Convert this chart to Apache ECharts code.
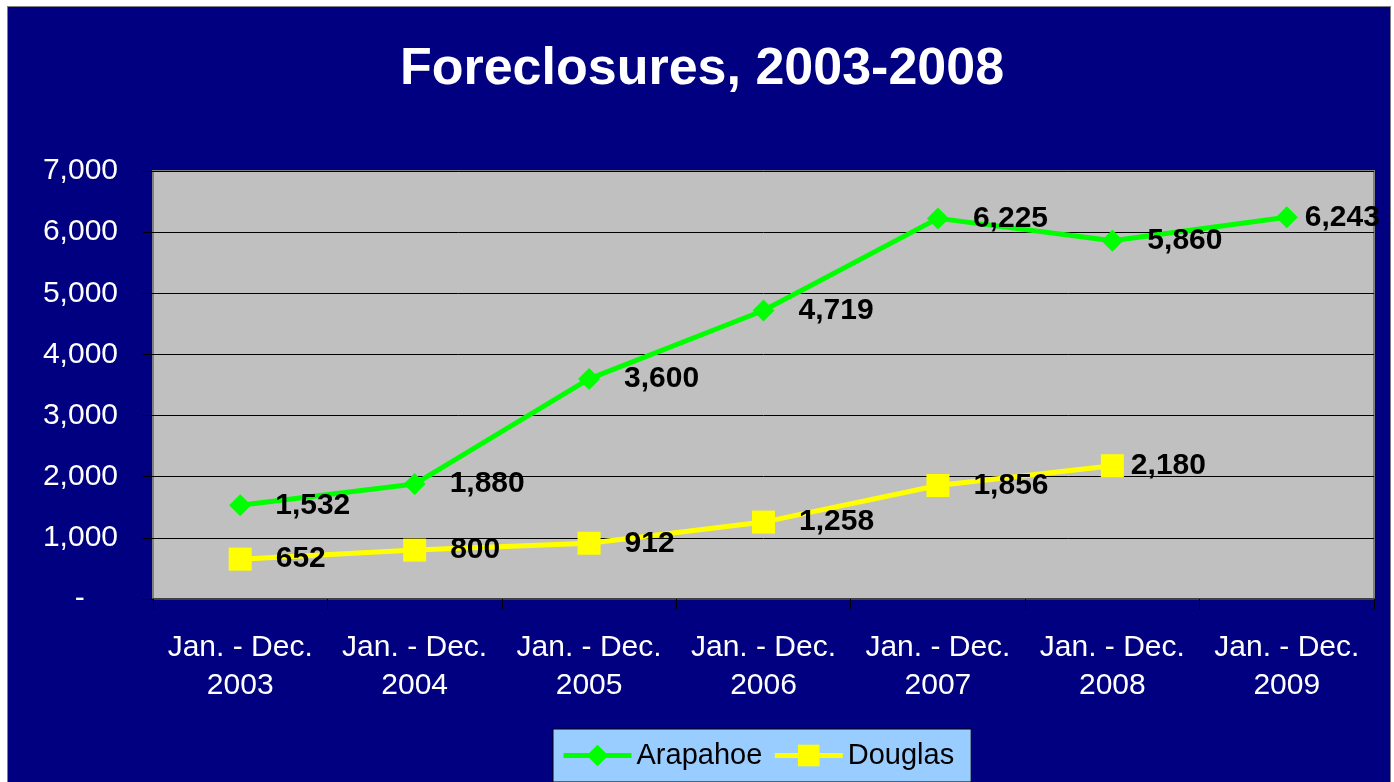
<!DOCTYPE html>
<html>
<head>
<meta charset="utf-8">
<script src="https://cdn.jsdelivr.net/npm/echarts@6/dist/echarts.min.js"></script>
<style>
html,body{margin:0;padding:0;background:#ffffff;width:1394px;height:782px;overflow:hidden;}
#bg{position:absolute;left:7px;top:6px;width:1384px;height:780px;background:#000080;border:1px solid #808080;box-sizing:border-box;}
#chart{position:absolute;left:0;top:0;width:1394px;height:782px;}
</style>
</head>
<body>
<div id="bg"></div>
<div id="chart"></div>
<script>
const titleText = 'Foreclosures, 2003-2008';
const categories = ['Jan. - Dec.\n2003','Jan. - Dec.\n2004','Jan. - Dec.\n2005','Jan. - Dec.\n2006','Jan. - Dec.\n2007','Jan. - Dec.\n2008','Jan. - Dec.\n2009'];
const seriesNames = ['Arapahoe','Douglas'];
const arapahoe = [1532, 1880, 3600, 4719, 6225, 5860, 6243];
const douglas = [652, 800, 912, 1258, 1856, 2180, null];
const yTicks = [0, 1000, 2000, 3000, 4000, 5000, 6000, 7000];

const FONT = "'Liberation Sans', Arial, sans-serif";
const fmt = v => Number(v).toLocaleString('en-US');

function buildData(values, nearIdx) {
  return values.map((v, i) => {
    if (v === null) return null;
    if (nearIdx.includes(i)) return { value: v, label: { distance: 7 } };
    return v;
  });
}

const chart = echarts.init(document.getElementById('chart'), null, { renderer: 'canvas' });
chart.setOption({
  backgroundColor: 'transparent',
  animation: false,
  textStyle: { fontFamily: FONT },
  title: {
    text: titleText,
    left: 702,
    textAlign: 'center',
    top: 41,
    padding: 0,
    textStyle: { color: '#ffffff', fontSize: 52, fontWeight: 'bold', fontFamily: FONT, lineHeight: 58 }
  },
  legend: {
    data: seriesNames,
    left: 553,
    top: 729,
    padding: [12, 17, 12, 8],
    itemGap: 10,
    itemWidth: 68,
    itemHeight: 27,
    backgroundColor: '#99CCFF',
    borderColor: '#000000',
    borderWidth: 1,
    lineStyle: { width: 5 },
    textStyle: { color: '#000000', fontSize: 29, fontFamily: FONT, padding: [2, 0, 0, 0] }
  },
  grid: {
    left: 153, top: 171, width: 1221, height: 428,
    show: true,
    backgroundColor: '#C0C0C0',
    borderColor: '#808080',
    borderWidth: 2
  },
  xAxis: {
    type: 'category',
    data: categories,
    boundaryGap: true,
    axisLine: { show: true, lineStyle: { color: '#404040', width: 2 } },
    axisTick: { show: true, alignWithLabel: false, length: 10, lineStyle: { color: '#000000' } },
    axisLabel: { color: '#ffffff', fontSize: 30, lineHeight: 38, margin: 30, fontFamily: FONT, interval: 0 },
    splitLine: { show: false }
  },
  yAxis: {
    type: 'value',
    min: yTicks[0],
    max: yTicks[yTicks.length - 1],
    interval: 1000,
    axisLine: { show: false },
    axisTick: { show: true, length: 10, lineStyle: { color: '#000000' } },
    axisLabel: {
      color: '#ffffff', fontSize: 30, margin: 35, fontFamily: FONT,
      formatter: v => v === 0 ? '-    ' : fmt(v)
    },
    splitLine: { show: true, lineStyle: { color: '#000000', width: 1 } }
  },
  series: [
    {
      name: seriesNames[0],
      type: 'line',
      data: buildData(arapahoe, [6]),
      symbol: 'diamond',
      symbolSize: 22,
      lineStyle: { color: '#00FF00', width: 5 },
      itemStyle: { color: '#00FF00' },
      label: {
        show: true, position: 'right', distance: 24,
        color: '#000000', fontSize: 30, fontWeight: 'bold', fontFamily: FONT,
        formatter: p => fmt(p.value)
      },
      z: 3
    },
    {
      name: seriesNames[1],
      type: 'line',
      data: buildData(douglas, [5]),
      symbol: 'rect',
      symbolSize: 23,
      lineStyle: { color: '#FFFF00', width: 5 },
      itemStyle: { color: '#FFFF00' },
      label: {
        show: true, position: 'right', distance: 24,
        color: '#000000', fontSize: 30, fontWeight: 'bold', fontFamily: FONT,
        formatter: p => fmt(p.value)
      },
      z: 2
    }
  ]
});
</script>
</body>
</html>
